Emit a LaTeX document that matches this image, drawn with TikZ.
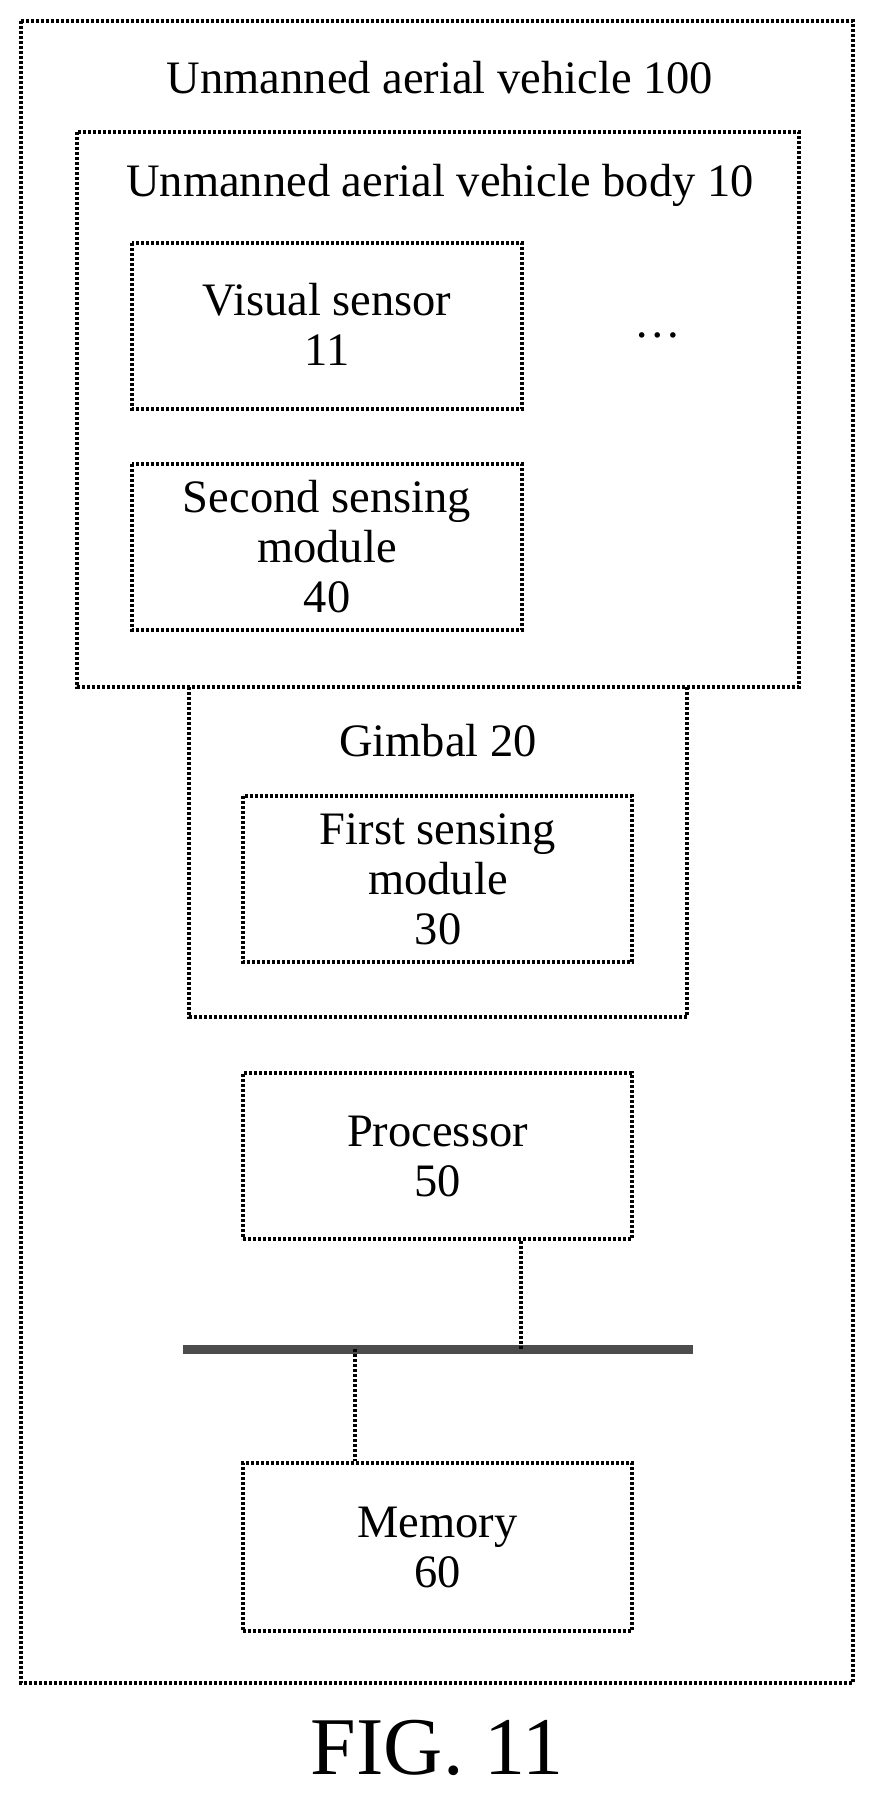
\documentclass[tikz,border=0pt]{standalone}
\usepackage{fontspec}
\setmainfont{Liberation Serif}
\begin{document}
\begin{tikzpicture}[x=1pt,y=-1pt,
  bx/.style={draw,line width=3.6pt,dash pattern=on 3pt off 2pt},
  t/.style={font=\fontsize{46.5}{50}\selectfont,align=center}]
\useasboundingbox (0,0) rectangle (878,1800);
\draw[bx] (21,21) rectangle (853,1683);
\node[t] (uav) at (440,78) {Unmanned aerial vehicle 100};
\draw[bx] (77,132) rectangle (799,687);
\node[t] (body) at (440,185) {Unmanned aerial vehicle body 10};
\draw[bx] (132,243) rectangle (522,409);
\node[t] (vs) at (327,324) {Visual sensor\\11};
\node[t] (dots) at (658,335) {\dots};
\draw[bx] (132,464) rectangle (522,630);
\node[t] (ss) at (327,547) {Second sensing\\module\\40};
\draw[bx] (189,687) -- (189,1017) -- (687,1017) -- (687,687);
\node[t] (gim) at (438,741) {Gimbal 20};
\draw[bx] (243,796) rectangle (632,962);
\node[t] (fs) at (438,879) {First sensing\\module\\30};
\node[bx,minimum width=389pt,minimum height=166pt] (proc) at (437.5,1156) {};
\node[t] at (437.5,1156) {Processor\\50};
\node[bx,minimum width=389pt,minimum height=168pt] (mem) at (437.5,1547) {};
\node[t] at (437.5,1547) {Memory\\60};
\coordinate (bl) at (183,1349); \coordinate (br) at (693,1349);
\draw[line width=9pt,draw=black!70] (bl) -- (br);
\coordinate (pb) at (521,1349); \coordinate (mb) at (355,1349);
\draw[bx] (proc.south -| pb) -- (pb);
\draw[bx] (mb) -- (mem.north -| mb);
\node[font=\fontsize{82}{90}\selectfont] (fig) at (437,1748) {FIG. 11};
\end{tikzpicture}
\end{document}
